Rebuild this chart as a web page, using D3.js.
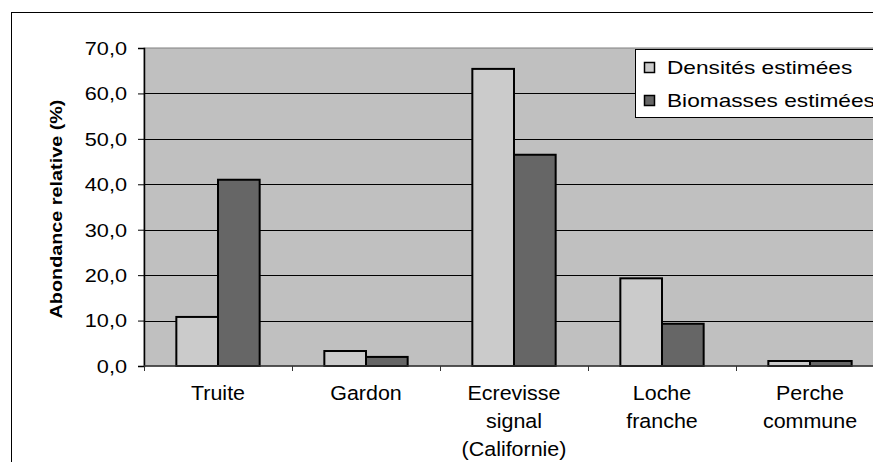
<!DOCTYPE html>
<html>
<head>
<meta charset="utf-8">
<script src="https://cdn.jsdelivr.net/npm/d3@7"></script>
<style>
  html, body { margin: 0; padding: 0; background: #ffffff; }
  svg { display: block; font-family: "Liberation Sans", Arial, sans-serif; }
</style>
</head>
<body>
<svg id="chart" width="873" height="462"></svg>
<script>
// Species (multi-line labels) and relative abundance values (%)
const categories = ["Truite", "Gardon", "Ecrevisse signal (Californie)", "Loche franche", "Perche commune"];
const categoryLines = [["Truite"], ["Gardon"], ["Ecrevisse", "signal", "(Californie)"], ["Loche", "franche"], ["Perche", "commune"]];
const seriesNames = ["Densités estimées", "Biomasses estimées"];
const densites = [10.8, 3.3, 65.4, 19.3, 1.1];
const biomasses = [41.0, 2.0, 46.5, 9.3, 1.1];
const yTicks = [0, 10, 20, 30, 40, 50, 60, 70];
const yTitle = "Abondance relative (%)";

const colors = ["#cbcbcb", "#666666"];
const series = [densites, biomasses];

const svg = d3.select("#chart");

// Outer chart frame (right and bottom edges run past the visible area)
svg.append("rect")
  .attr("x", 11.5).attr("y", 12.5)
  .attr("width", 900).attr("height", 500)
  .attr("fill", "#ffffff").attr("stroke", "#000000").attr("stroke-width", 1);

const plot = { left: 144, top: 48, bottom: 366, step: 148 };
plot.right = plot.left + plot.step * categories.length;

const y = d3.scaleLinear().domain([0, 70]).range([plot.bottom, plot.top]);
const x = d3.scaleBand().domain(categories)
  .range([plot.left, plot.right])
  .paddingInner(0.437).paddingOuter(0.2185);
const xs = d3.scaleBand().domain(d3.range(seriesNames.length)).range([0, x.bandwidth()]);

// Plot area background
svg.append("rect")
  .attr("x", plot.left).attr("y", plot.top)
  .attr("width", plot.right - plot.left).attr("height", plot.bottom - plot.top)
  .attr("fill", "#c0c0c0").attr("stroke", "#808080").attr("stroke-width", 1);

// Horizontal gridlines
svg.append("g").selectAll("line")
  .data(yTicks.filter(d => d > 0 && d < 70))
  .join("line")
  .attr("x1", plot.left).attr("x2", plot.right)
  .attr("y1", d => Math.round(y(d)) + 0.5).attr("y2", d => Math.round(y(d)) + 0.5)
  .attr("stroke", "#000000").attr("stroke-width", 1);

// Bars
const groups = svg.append("g").selectAll("g")
  .data(categories)
  .join("g")
  .attr("transform", d => `translate(${x(d)},0)`);

groups.selectAll("rect")
  .data((d, i) => series.map((s, k) => ({ k, v: s[i] })))
  .join("rect")
  .attr("x", d => xs(d.k))
  .attr("y", d => y(d.v))
  .attr("width", xs.bandwidth())
  .attr("height", d => y(0) - y(d.v))
  .attr("fill", d => colors[d.k])
  .attr("stroke", "#000000").attr("stroke-width", 2);

// Y axis
const yAxis = svg.append("g")
  .attr("transform", `translate(${plot.left},0)`)
  .call(d3.axisLeft(y).tickValues(yTicks).tickSize(6).tickPadding(0)
    .tickFormat(d => d3.format(".1f")(d).replace(".", ",")));
yAxis.select(".domain").attr("stroke", "#000000").attr("stroke-width", 1.5);
yAxis.selectAll(".tick line").attr("stroke", "#000000");
yAxis.selectAll(".tick text").remove();
yAxis.selectAll(".tick").append("text")
  .attr("transform", "translate(-17,0) scale(1.24,1)")
  .attr("dy", "0.36em")
  .attr("text-anchor", "end")
  .attr("fill", "#000000")
  .style("font-size", "17.5px")
  .style("font-family", "'Liberation Sans', Arial, sans-serif")
  .text(d => d3.format(".1f")(d).replace(".", ","));

// X axis with ticks between categories
const xAxisG = svg.append("g");
xAxisG.append("line")
  .attr("x1", plot.left).attr("x2", plot.right)
  .attr("y1", plot.bottom).attr("y2", plot.bottom)
  .attr("stroke", "#333333").attr("stroke-width", 1.5);
xAxisG.selectAll("line.tk")
  .data(d3.range(categories.length + 1))
  .join("line").attr("class", "tk")
  .attr("x1", i => plot.left + i * x.step() + 0.5)
  .attr("x2", i => plot.left + i * x.step() + 0.5)
  .attr("y1", plot.bottom).attr("y2", plot.bottom + 5)
  .attr("stroke", "#333333").attr("stroke-width", 1);

// Category labels
const catLabels = svg.append("g").selectAll("g")
  .data(categories)
  .join("g")
  .attr("transform", d => `translate(${x(d) + x.bandwidth() / 2},400) scale(1.1,1)`);
catLabels.each(function (d, i) {
  d3.select(this).selectAll("text")
    .data(categoryLines[i])
    .join("text")
    .attr("x", 0)
    .attr("y", (t, j) => j * 28)
    .attr("text-anchor", "middle")
    .attr("fill", "#000000")
    .style("font-size", "19.5px")
    .text(t => t);
});

// Y axis title
svg.append("text")
  .attr("transform", "translate(62,209) rotate(-90) scale(1.2,1)")
  .attr("text-anchor", "middle")
  .attr("fill", "#000000")
  .style("font-size", "16.5px")
  .style("font-weight", "bold")
  .text(yTitle);

// Legend
const legend = svg.append("g");
legend.append("rect")
  .attr("x", 635.5).attr("y", 49.5)
  .attr("width", 300).attr("height", 68)
  .attr("fill", "#ffffff").attr("stroke", "#000000").attr("stroke-width", 1);
const items = legend.selectAll("g.item")
  .data(seriesNames)
  .join("g").attr("class", "item")
  .attr("transform", (d, i) => `translate(644,${67.5 + i * 33})`);
items.append("rect")
  .attr("x", 0.5).attr("y", -5)
  .attr("width", 10).attr("height", 10)
  .attr("fill", (d, i) => colors[i])
  .attr("stroke", "#000000").attr("stroke-width", 1.5);
items.append("text")
  .attr("transform", "translate(23,0) scale(1.26,1)")
  .attr("dy", "0.36em")
  .attr("fill", "#000000")
  .style("font-size", "18px")
  .text(d => d);
</script>
</body>
</html>
